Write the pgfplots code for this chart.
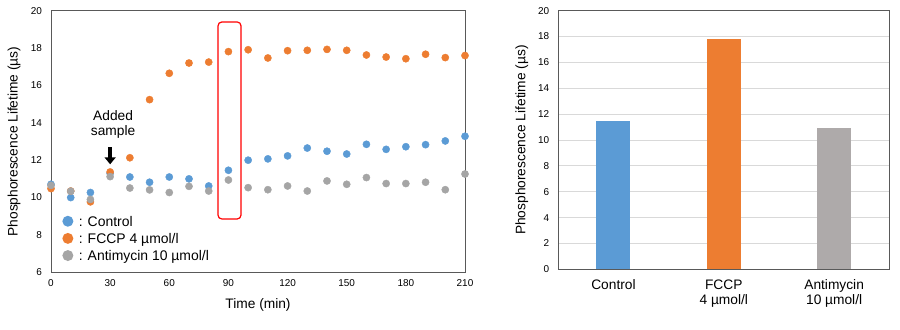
\documentclass[border=0pt]{standalone}
\usepackage{pgfplots}
\pgfplotsset{compat=1.18}
\usepackage{fontspec}
\setmainfont{Liberation Sans}
\usetikzlibrary{arrows.meta}
\definecolor{cblue}{HTML}{5B9BD5}
\definecolor{corange}{HTML}{ED7D31}
\definecolor{cgray}{HTML}{A5A5A5}
\definecolor{bgray}{HTML}{AEAAAA}
\definecolor{axgray}{HTML}{595959}
\begin{document}
\begin{tikzpicture}
\useasboundingbox (0,0) rectangle (900bp,330bp);
% ---------- left scatter ----------
\begin{axis}[
  at={(51bp,57.7bp)}, anchor=south west,
  scale only axis, width=414bp, height=261.6bp,
  xmin=0, xmax=210, ymin=6, ymax=20,
  xtick={0,30,...,210}, ytick={6,8,...,20},
  major tick length=0,
  axis line style={axgray, line width=0.9bp},
  /pgf/number format/assume math mode=true,
  tick label style={font=\fontsize{10}{12}\selectfont, text=black},
  yticklabel style={xshift=-5.5bp},
  xticklabel style={yshift=-3.5bp},
  xlabel={Time (min)},
  ylabel={Phosphorescence Lifetime (µs)},
  label style={font=\fontsize{13.8}{16}\selectfont},
  xlabel style={at={(axis description cs:0.5,-0.125)}, anchor=center},
  ylabel style={at={(axis description cs:-0.0894,0.5)}, anchor=center},
  legend style={at={(rel axis cs:0.027,0.222)}, anchor=north west, draw=none, fill=none,
    font=\fontsize{14}{16}\selectfont, row sep=3.5bp, inner sep=0pt,
    nodes={inner sep=0.5bp}},
  legend cell align=left,
  legend image code/.code={\fill[#1,draw=none] (5.5bp,0bp) circle (5.5bp);},
  clip=false,
]
\addplot[only marks, mark=*, mark size=3.6bp, color=cblue, mark options={draw=none, fill=cblue}] coordinates {
(0,10.71) (10,10.0) (20,10.27) (30,11.3) (40,11.1) (50,10.82) (60,11.1) (70,11.0) (80,10.62) (90,11.46)
(100,12.0) (110,12.07) (120,12.23) (130,12.65) (140,12.48) (150,12.33) (160,12.85) (170,12.58) (180,12.72) (190,12.83) (200,13.03) (210,13.28)};
\addlegendentry{\strut\hspace{5bp}:\hspace{5bp}Control}
\addplot[only marks, mark=*, mark size=3.6bp, color=corange, mark options={draw=none, fill=corange}] coordinates {
(0,10.48) (10,10.35) (20,9.77) (30,11.37) (40,12.13) (50,15.24) (60,16.65) (70,17.2) (80,17.25) (90,17.81)
(100,17.91) (110,17.47) (120,17.86) (130,17.88) (140,17.93) (150,17.88) (160,17.63) (170,17.52) (180,17.43) (190,17.67) (200,17.49) (210,17.6)};
\addlegendentry{\strut\hspace{5bp}:\hspace{5bp}FCCP 4 µmol/l}
\addplot[only marks, mark=*, mark size=3.6bp, color=cgray, mark options={draw=none, fill=cgray}] coordinates {
(0,10.65) (10,10.34) (20,9.9) (30,11.12) (40,10.51) (50,10.41) (60,10.27) (70,10.6) (80,10.35) (90,10.94)
(100,10.53) (110,10.42) (120,10.62) (130,10.35) (140,10.89) (150,10.71) (160,11.07) (170,10.75) (180,10.75) (190,10.82) (200,10.42) (210,11.26)};
\addlegendentry{\strut\hspace{5bp}:\hspace{5bp}Antimycin 10 µmol/l}
\draw[red, line width=1.2bp, rounded corners=4bp] (axis cs:84.7,8.85) rectangle (axis cs:96.4,19.4);
\draw[line width=4bp, -{Triangle[width=11bp,length=7bp]}] (axis cs:30,12.7) -- (axis cs:30,11.78);
\node[align=center, font=\fontsize{13.8}{15}\selectfont] at (axis cs:31.5,13.9) {Added\\sample};
\end{axis}
% ---------- right bars ----------
\begin{axis}[
  at={(558.3bp,60.7bp)}, anchor=south west,
  scale only axis, width=331bp, height=258.6bp,
  xmin=-0.5, xmax=2.5, ymin=0, ymax=20,
  xtick={0,1,2}, xticklabels={Control, FCCP\\4 µmol/l, Antimycin\\10 µmol/l},
  ytick={0,2,...,20},
  major tick length=0,
  ymajorgrids, grid style={color=black!15, line width=0.8bp},
  axis line style={axgray, line width=0.9bp},
  /pgf/number format/assume math mode=true,
  yticklabel style={font=\fontsize{10}{12}\selectfont, xshift=-5.5bp},
  xticklabel style={font=\fontsize{13.8}{15}\selectfont, align=center, yshift=-7bp, anchor=north},
  ylabel={Phosphorescence Lifetime (µs)},
  ylabel style={font=\fontsize{13.8}{16}\selectfont, at={(axis description cs:-0.11,0.5)}, anchor=center},
]
\addplot[ybar, bar width=34bp, draw=none, fill=cblue] coordinates {(0,11.47)};
\addplot[ybar, bar width=34bp, draw=none, fill=corange] coordinates {(1,17.81)};
\addplot[ybar, bar width=34bp, draw=none, fill=bgray] coordinates {(2,10.93)};
\end{axis}
\end{tikzpicture}
\end{document}
